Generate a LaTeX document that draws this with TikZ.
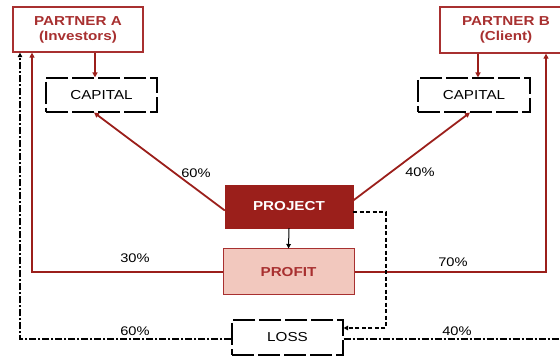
\documentclass[tikz,border=0pt]{standalone}
\usepackage{fontspec}
\setmainfont[FakeStretch=1.17]{Liberation Sans}
\usetikzlibrary{arrows.meta}
\definecolor{dred}{HTML}{9B1F1B}
\definecolor{tred}{HTML}{A83030}
\definecolor{pfill}{HTML}{F2C8BE}
\tikzset{
  partner/.style={draw=tred, line width=1.3pt, fill=white, text=tred, font=\fontsize{13}{15}\selectfont\bfseries, align=center, inner sep=0pt},
  dbox/.style={draw=black, line width=1.1pt, dash pattern=on 22pt off 4pt, fill=white, font=\fontsize{13}{15}\selectfont, inner sep=0pt},
  projbox/.style={fill=dred, draw=dred, text=white, font=\fontsize{13}{15}\selectfont\bfseries, inner sep=0pt},
  profbox/.style={fill=pfill, draw=tred, line width=1pt, text=tred, font=\fontsize{13}{15}\selectfont\bfseries, inner sep=0pt},
  pct/.style={font=\fontsize{12.5}{14}\selectfont, inner sep=0pt},
  redarr/.style={draw=dred, line width=1.8pt, -{Triangle[length=5pt,width=5pt]}},
  thinred/.style={draw=dred, line width=1.1pt},
  dashline/.style={draw=black, line width=1.3pt, dash pattern=on 4pt off 2.5pt},
  dashdot/.style={draw=black, line width=1.2pt, dash pattern=on 7pt off 2pt on 2pt off 2pt},
  blackarr/.style={-{Triangle[length=4.5pt,width=4.5pt]}}
}
\begin{document}
\begin{tikzpicture}[x=1pt,y=-1pt]
\useasboundingbox (0,0) rectangle (560,358);
\clip (0,0) rectangle (560,358);
% nodes
\node[partner, minimum width=130pt, minimum height=45pt] (pa) at (78,29.5) {PARTNER A\\(Investors)};
\node[partner, minimum width=132pt, minimum height=46pt] (pb) at (506,30) {PARTNER B\\(Client)};
\node[dbox, minimum width=111pt, minimum height=34pt] (ca) at (101.5,95) {CAPITAL};
\node[dbox, minimum width=112pt, minimum height=34pt] (cb) at (474,95) {CAPITAL};
\node[projbox, minimum width=128pt, minimum height=43pt] (proj) at (289,206.5) {PROJECT};
\node[profbox, minimum width=131pt, minimum height=46pt] (prof) at (288.5,272) {PROFIT};
\node[dbox, minimum width=111pt, minimum height=35pt] (loss) at (287.5,337.5) {LOSS};
% helper coordinates
\coordinate (xa) at (95,0);
\coordinate (xb) at (478,0);
\coordinate (xca) at (94,0);
\coordinate (xcb) at (470,0);
\coordinate (xl) at (32,0);
\coordinate (xr) at (546,0);
\coordinate (xdl) at (20,0);
\coordinate (xdr) at (564,0);
\coordinate (xd) at (386,0);
\coordinate (ylo) at (0,339);
\coordinate (yar) at (0,328);
\coordinate (yp) at (0,212);
% partner -> capital
\draw[redarr] (pa.south -| xa) -- (ca.north -| xa);
\draw[redarr] (pb.south -| xb) -- (cb.north -| xb);
% project -> capitals
\draw[redarr] ([yshift=-4pt]proj.west) -- (ca.south -| xca);
\draw[redarr] ([yshift=6pt]proj.east) -- (cb.south -| xcb);
\node[pct] (p60a) at (196,173) {60\%};
\node[pct] (p40a) at (420,172) {40\%};
% project -> profit
\draw[line width=1pt, blackarr] (proj.south) -- (prof.north);
% profit -> partners
\draw[thinred, -{Triangle[length=5pt,width=5pt]}] (prof.west) -- (prof.west -| xl) -- (pa.south -| xl);
\draw[thinred, -{Triangle[length=5pt,width=5pt]}] (prof.east) -- (prof.east -| xr) -- (pb.south -| xr);
\node[pct] (p30) at (135,258) {30\%};
\node[pct] (p70) at (453,262) {70\%};
% project -> loss
\draw[dashline, blackarr] (proj.east |- yp) -- (xd |- yp) -- (xd |- yar) -- (loss.east |- yar);
% loss -> partners
\draw[dashdot, blackarr] (loss.west |- ylo) -- (xdl |- ylo) -- (pa.south -| xdl);
\draw[dashdot, blackarr] (loss.east |- ylo) -- (xdr |- ylo) -- (pb.south -| xdr);
\node[pct] (p60b) at (135,331) {60\%};
\node[pct] (p40b) at (457,331) {40\%};
\end{tikzpicture}
\end{document}
